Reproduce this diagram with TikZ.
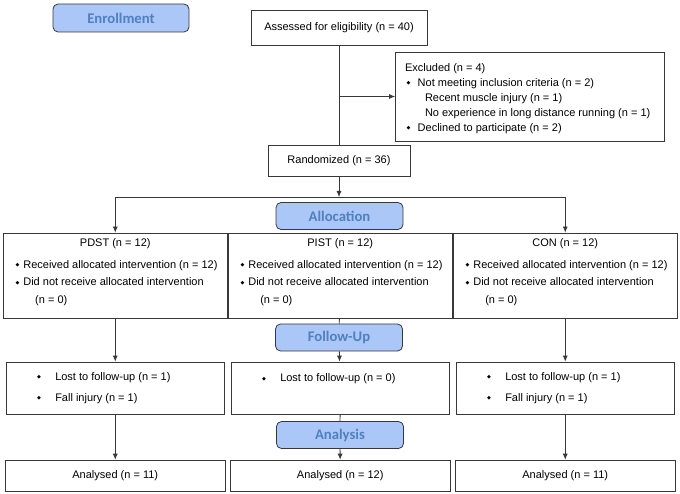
\documentclass[tikz,border=0pt]{standalone}
\usepackage{xcolor}
\usepackage{fontspec}
\setmainfont{Liberation Sans}
\newfontfamily\headfont{Carlito}
\newfontfamily\symfont{DejaVu Sans}
\usetikzlibrary{positioning,arrows.meta}
\definecolor{headfill}{RGB}{170,199,247}
\definecolor{headtext}{RGB}{80,128,192}
\definecolor{edge}{RGB}{55,55,60}
\newcommand{\dia}[1]{\makebox[#1][l]{\raisebox{1.6pt}{\symfont\fontsize{5}{5}\selectfont ◆}}}

\begin{document}
\begin{tikzpicture}[x=1pt,y=-1pt,node distance=225pt]
\tikzstyle{box} = [rectangle, draw=edge, line width=0.8pt, inner sep=0pt, text centered, font=\fontsize{11}{13}\selectfont]
\tikzstyle{list} = [box, align=left, execute at begin node={\spaceskip=0pt\xspaceskip=0pt\relax}]
\tikzstyle{head} = [rectangle, rounded corners=5pt, draw=edge, line width=0.8pt, fill=headfill, text=headtext, minimum width=127pt, minimum height=27pt, font=\headfont\bfseries\fontsize{14.7}{16}\selectfont]
\tikzstyle{grp} = [list, minimum width=224.5pt, minimum height=85pt, text width=208pt, font=\fontsize{11}{17.5}\selectfont]
\tikzstyle{lost} = [list, minimum width=218pt, minimum height=52.5pt, text width=158pt, font=\fontsize{11}{21}\selectfont]
\tikzstyle{res} = [box, minimum width=220pt, minimum height=31.5pt]
\tikzstyle{line} = [draw=edge, line width=0.8pt]
\tikzstyle{arrow} = [line, -{Latex[length=6pt,width=5pt]}]

\useasboundingbox (0,0) rectangle (680,494);

% enrollment
\node (enroll) [head, minimum width=136pt, minimum height=28pt] at (121,18) {Enrollment};
\node (assess) [box, minimum width=176pt, minimum height=35.5pt] at (339,28) {Assessed for eligibility (n = 40)};
\node (excl) [list, minimum width=269pt, minimum height=89pt, text width=250pt, font=\fontsize{11}{15}\selectfont] at (530,96.5)
  {\rule{0pt}{12pt}Excluded (n = 4)\\
   \hspace*{1.5pt}\dia{11.2pt}Not meeting inclusion criteria (n = 2)\\
   \hspace*{20pt}Recent muscle injury (n = 1)\\
   \hspace*{20pt}No experience in long distance running (n = 1)\\
   \hspace*{1.5pt}\dia{11.2pt}Declined to participate (n = 2)};
\node (rand) [box, minimum width=142pt, minimum height=30.5pt] at (339,161) {Randomized (n = 36)};
\coordinate (split) at (339,197);

% allocation
\node (alloc) [head] at (339.5,216) {Allocation};
\node (pdst) [grp] at (115.25,275.5)
  {\makebox[\hsize]{PDST (n = 12)}\\[3.8pt]
   \hspace*{4.3pt}\dia{7.8pt}Received allocated intervention (n = 12)\\
   \hspace*{4.3pt}\dia{7.8pt}Did not receive allocated intervention\\
   \hspace*{24pt}(n = 0)\rule[-9pt]{0pt}{0pt}};
\node (pist) [grp, right of=pdst]
  {\makebox[\hsize]{PIST (n = 12)}\\[3.8pt]
   \hspace*{4.3pt}\dia{7.8pt}Received allocated intervention (n = 12)\\
   \hspace*{4.3pt}\dia{7.8pt}Did not receive allocated intervention\\
   \hspace*{24pt}(n = 0)\rule[-9pt]{0pt}{0pt}};
\node (con) [grp, right of=pist]
  {\makebox[\hsize]{CON (n = 12)}\\[3.8pt]
   \hspace*{4.3pt}\dia{7.8pt}Received allocated intervention (n = 12)\\
   \hspace*{4.3pt}\dia{7.8pt}Did not receive allocated intervention\\
   \hspace*{24pt}(n = 0)\rule[-9pt]{0pt}{0pt}};

% follow-up
\node (fu) [head] at (339,337.5) {Follow-Up};
\node (fl1) [lost, below of=pdst, node distance=112.75pt]
  {\hspace*{0.8pt}\dia{18.2pt}Lost to follow-up (n = 1)\\
   \hspace*{0.8pt}\dia{18.2pt}Fall injury (n = 1)};
\node (fl2) [lost, below of=pist, node distance=112.75pt]
  {\hspace*{0.8pt}\dia{18.2pt}Lost to follow-up (n = 0)\\ \mbox{}};
\node (fl3) [lost, below of=con, node distance=112.75pt]
  {\hspace*{0.8pt}\dia{18.2pt}Lost to follow-up (n = 1)\\
   \hspace*{0.8pt}\dia{18.2pt}Fall injury (n = 1)};

% analysis
\node (an) [head] at (340,435) {Analysis};
\node (res1) [res, below of=fl1, node distance=87.6pt] {Analysed (n = 11)};
\node (res2) [res, below of=fl2, node distance=87.6pt] {Analysed (n = 12)};
\node (res3) [res, below of=fl3, node distance=87.6pt] {Analysed (n = 11)};

\draw [line] (assess) -- (rand);
\draw [arrow] (assess.south |- excl.west) -- (excl.west);
\draw [arrow] (rand) -- (rand.south |- split);
\draw [line] (pdst.north |- split) -- (con.north |- split);
\draw [arrow] (pdst.north |- split) -- (pdst);
\draw [arrow] (con.north |- split) -- (con);
\draw [arrow] (pdst) -- (fl1);
\draw [line] (pist) -- (fu);
\draw [arrow] (fu) -- (fl2);
\draw [arrow] (con) -- (fl3);
\draw [arrow] (fl1) -- (res1);
\draw [line] (fl2) -- (an);
\draw [arrow] (an) -- (res2);
\draw [arrow] (fl3) -- (res3);

\end{tikzpicture}
\end{document}
